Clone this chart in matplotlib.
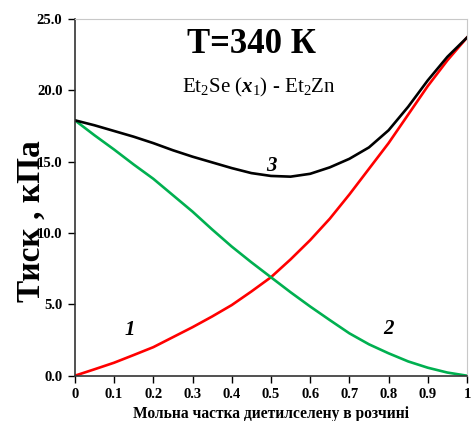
from matplotlib import pyplot as plt

# --------------------------- Data ---------------------------
x = [0.0, 0.05, 0.1, 0.15, 0.2, 0.25, 0.3, 0.35, 0.4, 0.45, 0.5,
     0.55, 0.6, 0.65, 0.7, 0.75, 0.8, 0.85, 0.9, 0.95, 1.0]
# curve 1 - Et2Se partial pressure
p_se = [0.0, 0.45, 0.91, 1.45, 2.0, 2.7, 3.4, 4.15, 4.95, 5.9, 6.9,
        8.15, 9.5, 11.0, 12.7, 14.5, 16.3, 18.3, 20.3, 22.1, 23.7]
# curve 2 - Et2Zn partial pressure
p_zn = [17.9, 16.85, 15.85, 14.8, 13.8, 12.65, 11.5, 10.25, 9.05, 7.95, 6.9,
        5.85, 4.85, 3.9, 2.97, 2.2, 1.57, 1.0, 0.56, 0.22, 0.0]
# curve 3 - total pressure
p_total = [17.9, 17.55, 17.15, 16.75, 16.3, 15.8, 15.35, 14.95, 14.55, 14.2, 14.0,
           13.95, 14.15, 14.6, 15.2, 16.0, 17.2, 18.85, 20.7, 22.35, 23.7]

x_ticks = [0, 0.1, 0.2, 0.3, 0.4, 0.5, 0.6, 0.7, 0.8, 0.9, 1]
x_tick_labels = ['0', '0.1', '0.2', '0.3', '0.4', '0.5', '0.6', '0.7', '0.8', '0.9', '1']
y_ticks = [0, 5, 10, 15, 20, 25]

# --------------------------- Plot ---------------------------
plt.rcParams['font.family'] = ['Liberation Serif', 'DejaVu Serif']
plt.rcParams['mathtext.fontset'] = 'custom'
plt.rcParams['mathtext.rm'] = 'Liberation Serif'
plt.rcParams['mathtext.it'] = 'Liberation Serif:italic'
plt.rcParams['mathtext.bf'] = 'Liberation Serif:bold'
plt.rcParams['mathtext.bfit'] = 'Liberation Serif:italic:bold'

fig = plt.figure(figsize=(4.71, 4.21), dpi=100)
ax = fig.add_axes([0.159, 0.1076, 0.8325, 0.8473])

ax.plot(x, p_se, color='#ff0000', lw=1.9)
ax.plot(x, p_zn, color='#00b050', lw=1.9)
ax.plot(x, p_total, color='black', lw=1.9)

ax.set_xlim(0, 1)
ax.set_ylim(0, 25)
ax.set_xticks(x_ticks)
ax.set_xticklabels(x_tick_labels, fontweight='bold', fontsize=10.5)
ax.set_yticks(y_ticks)
ax.set_yticklabels(['%.1f' % v for v in y_ticks], fontweight='bold', fontsize=10.5)
ax.tick_params(direction='out', length=5, width=1, pad=4)

for side in ['top', 'right']:
    ax.spines[side].set_color('#c8c8c8')
for side in ['left', 'bottom']:
    ax.spines[side].set_color('#333333')
    ax.spines[side].set_linewidth(1.2)

# axis titles (the y title overlaps the tick labels, as in the original)
ax.text(-0.11, 0.433, 'Тиск , кПа', transform=ax.transAxes, rotation=90,
        ha='center', va='center', fontsize=24, fontweight='bold')
ax.set_xlabel('Мольна частка диетилселену в розчині', fontsize=11.2, fontweight='bold')
ax.xaxis.set_label_coords(0.5, -0.085)

# Titles inside the plot
ax.text(0.45, 23.2, 'T=340 К', ha='center', va='center', fontsize=25, fontweight='bold')
ax.text(0.47, 20.2, r'Et$_2$Se ($\boldsymbol{x}_1$) - Et$_2$Zn', ha='center', va='center',
        fontsize=15)

# Curve labels
lab = dict(fontsize=15, fontweight='bold', style='italic', ha='center', va='center')
ax.text(0.14, 3.2, '1', **lab)
ax.text(0.80, 3.3, '2', **lab)
ax.text(0.50, 14.7, '3', **lab)

fig.savefig('out.png', dpi=100)
